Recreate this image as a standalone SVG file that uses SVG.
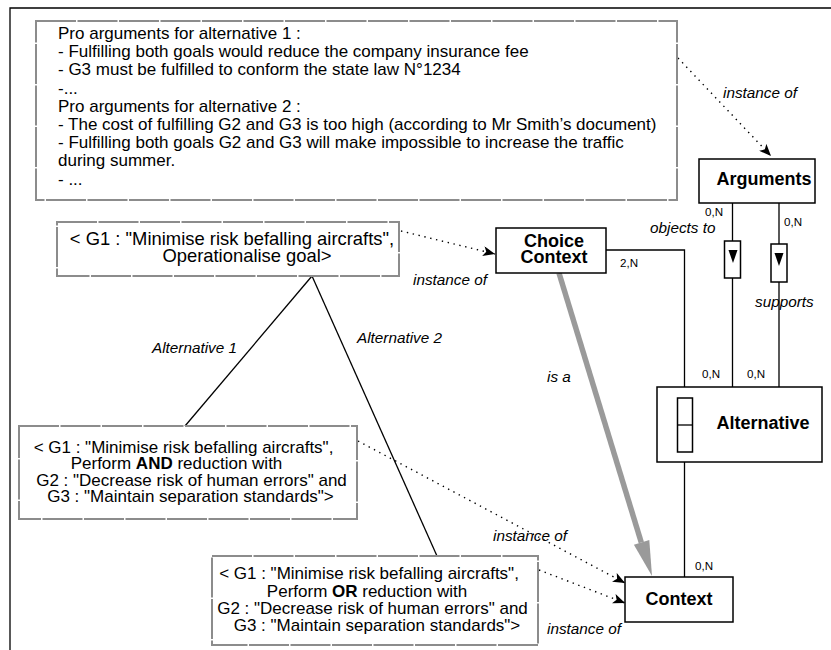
<svg xmlns="http://www.w3.org/2000/svg" width="831" height="650" viewBox="0 0 831 650">
<style>
text{font-family:"Liberation Sans",Arial,Helvetica,sans-serif;fill:#000}
.t{font-size:17px}
.g{font-size:17px}
.g1{font-size:18.4px}
.b{font-size:18px;font-weight:bold}
.i{font-size:15.3px;font-style:italic}
.c{font-size:11.6px}
.box{fill:#fff;stroke:#000;stroke-width:1.5}
.gbox{fill:#fff;stroke:#8c8c8c;stroke-width:2;stroke-dasharray:40 1.5}
.ln{fill:none;stroke:#000;stroke-width:1.3}
.dot{fill:none;stroke:#000;stroke-width:1.4;stroke-dasharray:1.4 4.6}
</style>
<defs>
<marker id="ah" viewBox="0 0 12 10" refX="12" refY="5" markerWidth="12" markerHeight="10" markerUnits="userSpaceOnUse" orient="auto">
<path d="M0,0 L12,5 L0,10 L3,5 z" fill="#000"/>
</marker>
</defs>
<g id="frame">
<path class="ln" d="M10,650 L10,8 L831,8"/>
</g>
<g id="connectors">
<path class="dot" d="M678,58 L771,156" marker-end="url(#ah)"/>
<path class="dot" d="M401,231 L495,254" marker-end="url(#ah)"/>
<path class="dot" d="M358,441 L625,583" marker-end="url(#ah)"/>
<path class="dot" d="M539,570 L625,603" marker-end="url(#ah)"/>
<path class="ln" d="M312,276 L185,426"/>
<path class="ln" d="M312,276 L437,556"/>
<path class="ln" d="M606,250 L684.5,250 L684.5,398"/>
<path class="ln" d="M684.5,452 L684.5,577"/>
<path class="ln" d="M732.5,203 L732.5,241 M732.5,278 L732.5,387"/>
<path class="ln" d="M779,203 L779,244 M779,282 L779,387"/>
<rect class="box" x="724.5" y="241" width="16" height="37" stroke-width="1.3"/>
<path d="M728.5,250 L737.5,250 L733,263 z" fill="#000"/>
<rect class="box" x="771" y="244" width="16" height="38" stroke-width="1.3"/>
<path d="M774.5,253 L783.5,253 L779,266 z" fill="#000"/>
<path d="M559,273 L641.3,542.5" fill="none" stroke="#9a9a9a" stroke-width="5.5"/>
<path d="M652,576 L649.3,540.1 L633.9,544.8 z" fill="#9a9a9a"/>
<text class="i" x="723" y="98">instance of</text>
<text class="i" x="413" y="285">instance of</text>
<text class="i" x="493" y="541">instance of</text>
<text class="i" x="547" y="634">instance of</text>
<text class="i" x="152" y="353">Alternative 1</text>
<text class="i" x="357" y="343">Alternative 2</text>
<text class="i" x="547" y="382">is a</text>
<text class="i" x="650" y="233">objects to</text>
<text class="i" x="755" y="307">supports</text>
<text class="c" x="705" y="216">0,N</text>
<text class="c" x="784" y="226">0,N</text>
<text class="c" x="620" y="267">2,N</text>
<text class="c" x="702" y="378">0,N</text>
<text class="c" x="747" y="378">0,N</text>
<text class="c" x="695" y="570">0,N</text>
</g>
<g id="pro-arguments">
<rect class="gbox" x="36" y="21" width="641" height="179"/>
<text class="t" x="58" y="39">Pro arguments for alternative 1 :</text>
<text class="t" x="58" y="57.2">- Fulfilling both goals would reduce the company insurance fee</text>
<text class="t" x="58" y="75.4">- G3 must be fulfilled to conform the state law N°1234</text>
<text class="t" x="58" y="93.6">-...</text>
<text class="t" x="58" y="111.8">Pro arguments for alternative 2 :</text>
<text class="t" x="58" y="130">- The cost of fulfilling G2 and G3 is too high (according to Mr Smith’s document)</text>
<text class="t" x="58" y="148.2">- Fulfilling both goals G2 and G3 will make impossible to increase the traffic</text>
<text class="t" x="58" y="166.4">during summer.</text>
<text class="t" x="58" y="184.6">- ...</text>
</g>
<g id="g1-goal">
<rect class="gbox" x="57" y="222" width="342" height="54"/>
<text class="g1" x="232" y="245" text-anchor="middle">&lt; G1 : "Minimise risk befalling aircrafts",</text>
<text class="g1" x="247" y="262" text-anchor="middle">Operationalise goal&gt;</text>
</g>
<g id="and-goal">
<rect class="gbox" x="19" y="426" width="338" height="93"/>
<text class="g" x="183.5" y="452.5" text-anchor="middle">&lt; G1 : "Minimise risk befalling aircrafts",</text>
<text class="g" x="176.5" y="469" text-anchor="middle">Perform <tspan font-weight="bold">AND</tspan> reduction with</text>
<text class="g" x="191.5" y="485.5" text-anchor="middle">G2 : "Decrease risk of human errors" and</text>
<text class="g" x="190.5" y="502" text-anchor="middle">G3 : "Maintain separation standards"&gt;</text>
</g>
<g id="or-goal">
<rect class="gbox" x="212" y="556" width="326" height="89"/>
<text class="g" x="369" y="579" text-anchor="middle">&lt; G1 : "Minimise risk befalling aircrafts",</text>
<text class="g" x="367" y="596.5" text-anchor="middle">Perform <tspan font-weight="bold">OR</tspan> reduction with</text>
<text class="g" x="372.5" y="614" text-anchor="middle">G2 : "Decrease risk of human errors" and</text>
<text class="g" x="377" y="631" text-anchor="middle">G3 : "Maintain separation standards"&gt;</text>
</g>
<g id="arguments">
<rect class="box" x="699" y="159" width="116" height="44"/>
<text class="b" x="764" y="185" text-anchor="middle">Arguments</text>
</g>
<g id="choice-context">
<rect class="box" x="496" y="228" width="110" height="45"/>
<text class="b" x="554" y="246.5" text-anchor="middle">Choice</text>
<text class="b" x="554" y="263" text-anchor="middle">Context</text>
</g>
<g id="alternative">
<rect class="box" x="657" y="387" width="165" height="75"/>
<rect class="box" x="677.5" y="398" width="15" height="54" stroke-width="1.3"/>
<path class="ln" d="M677.5,425 L692.5,425"/>
<text class="b" x="763" y="429" text-anchor="middle">Alternative</text>
</g>
<g id="context">
<rect class="box" x="625" y="577" width="108" height="45"/>
<text class="b" x="679" y="605" text-anchor="middle">Context</text>
</g>
</svg>
